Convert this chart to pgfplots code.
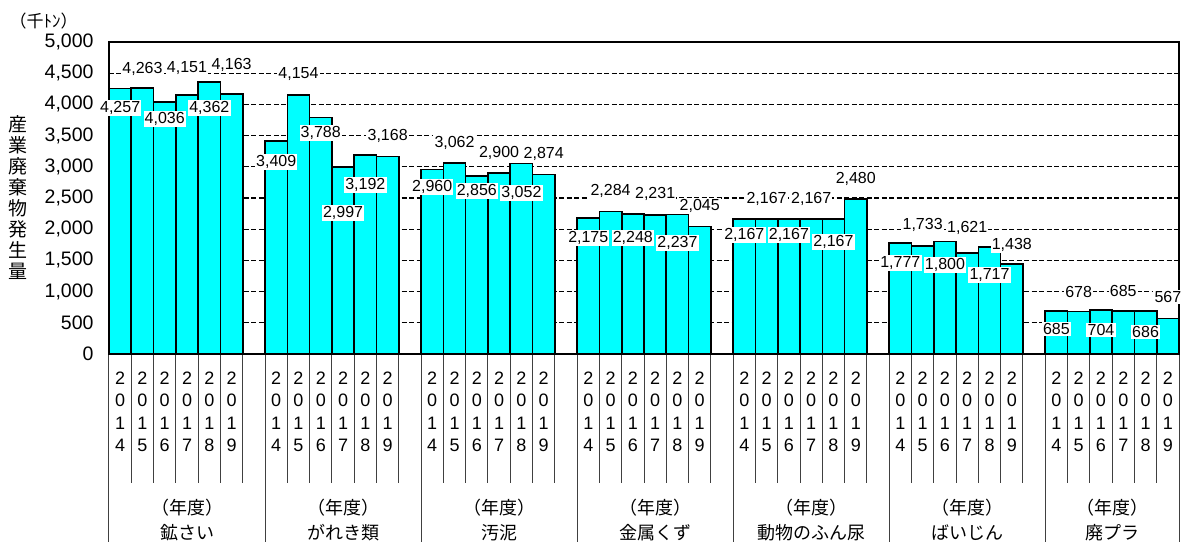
\documentclass[border=0pt]{standalone}
\usepackage{fontspec}
\setmainfont{Liberation Sans}
\newfontfamily\jp{Noto Sans CJK JP}
\usepackage{pgfplots}
\usepackage{pgfplotstable}
\pgfplotsset{compat=1.18}

\definecolor{barc}{RGB}{0,255,255}

% bars: 7 groups x 6 years (2014-2019), one empty slot between groups
\pgfplotstableread{
x y
0.5 4257
1.5 4263
2.5 4036
3.5 4151
4.5 4362
5.5 4163
7.5 3409
8.5 4154
9.5 3788
10.5 2997
11.5 3192
12.5 3168
14.5 2960
15.5 3062
16.5 2856
17.5 2900
18.5 3052
19.5 2874
21.5 2175
22.5 2284
23.5 2248
24.5 2231
25.5 2237
26.5 2045
28.5 2167
29.5 2167
30.5 2167
31.5 2167
32.5 2167
33.5 2480
35.5 1777
36.5 1733
37.5 1800
38.5 1621
39.5 1717
40.5 1438
42.5 685
43.5 678
44.5 704
45.5 685
46.5 686
47.5 567
}\bars

% where the value labels sit
\pgfplotstableread{
x ly lbl
0.5 3942 4,257
1.5 4567 4,263
2.5 3766 4,036
3.5 4583 4,151
4.5 3942 4,362
5.5 4631 4,163
7.5 3077 3,409
8.5 4487 4,154
9.5 3542 3,788
10.5 2260 2,997
11.5 2708 3,192
12.5 3494 3,168
14.5 2676 2,960
15.5 3381 3,062
16.5 2612 2,856
17.5 3221 2,900
18.5 2580 3,052
19.5 3205 2,874
21.5 1859 2,175
22.5 2612 2,284
23.5 1859 2,248
24.5 2564 2,231
25.5 1779 2,237
26.5 2372 2,045
28.5 1907 2,167
29.5 2484 2,167
30.5 1907 2,167
31.5 2484 2,167
32.5 1795 2,167
33.5 2804 2,480
35.5 1458 1,777
36.5 2067 1,733
37.5 1426 1,800
38.5 2019 1,621
39.5 1266 1,717
40.5 1747 1,438
42.5 400 685
43.5 994 678
44.5 385 704
45.5 1010 685
46.5 353 686
47.5 913 567
}\labels

\newcommand\yy[1]{2\\0\\1\\#1}

\begin{document}
\begin{tikzpicture}
\useasboundingbox (-109pt,-188pt) rectangle (1078pt,354pt);
\begin{axis}[
  at={(0,0)}, anchor=south west,
  scale only axis, width=1070pt, height=312pt,
  xmin=0, xmax=48, ymin=0, ymax=5000,
  axis line style={line width=1.6pt},
  clip=false,
  tick pos=left,
  ytick={0,500,...,5000},
  ytick style={draw=none},
  ymajorgrids,
  grid style={black, line width=1.2pt, dash pattern=on 5pt off 2.5pt},
  yticklabel style={font=\fontsize{19.5}{22}\selectfont, xshift=-12pt},
  y tick label style={/pgf/number format/.cd, 1000 sep={,}, assume math mode=true},
  xtick={0,7,14,21,28,35,42,48},
  xticklabels={},
  minor xtick={1,2,3,4,5,6,8,9,10,11,12,13,15,16,17,18,19,20,22,23,24,25,26,27,29,30,31,32,33,34,36,37,38,39,40,41,43,44,45,46,47},
  major tick length=-188pt,
  minor tick length=-129pt,
  xtick style={black!75, line width=1pt},
  extra x ticks={0.5,1.5,2.5,3.5,4.5,5.5,7.5,8.5,9.5,10.5,11.5,12.5,14.5,15.5,16.5,17.5,18.5,19.5,21.5,22.5,23.5,24.5,25.5,26.5,28.5,29.5,30.5,31.5,32.5,33.5,35.5,36.5,37.5,38.5,39.5,40.5,42.5,43.5,44.5,45.5,46.5,47.5},
  extra x tick labels={\yy4,\yy5,\yy6,\yy7,\yy8,\yy9,\yy4,\yy5,\yy6,\yy7,\yy8,\yy9,\yy4,\yy5,\yy6,\yy7,\yy8,\yy9,\yy4,\yy5,\yy6,\yy7,\yy8,\yy9,\yy4,\yy5,\yy6,\yy7,\yy8,\yy9,\yy4,\yy5,\yy6,\yy7,\yy8,\yy9,\yy4,\yy5,\yy6,\yy7,\yy8,\yy9},
  extra x tick style={major tick length=0pt, tick label style={align=center, font=\fontsize{18}{22.6}\selectfont, yshift=-14pt}},
]
\addplot[ybar, bar width=1, bar shift=0pt, fill=barc, draw=black, line width=1.6pt] table[x=x, y=y]{\bars};
\addplot[draw=none, mark=none, nodes near coords, point meta=explicit symbolic,
  nodes near coords style={anchor=center, fill=white, inner sep=1.2pt, font=\fontsize{16}{17}\selectfont}]
  table[x=x, y=ly, meta=lbl]{\labels};

\node[align=center, font=\jp\fontsize{18}{25}\selectfont] at (axis cs:3.5,0) [yshift=-166pt] {（年度）\\鉱さい};
\node[align=center, font=\jp\fontsize{18}{25}\selectfont] at (axis cs:10.5,0) [yshift=-166pt] {（年度）\\がれき類};
\node[align=center, font=\jp\fontsize{18}{25}\selectfont] at (axis cs:17.5,0) [yshift=-166pt] {（年度）\\汚泥};
\node[align=center, font=\jp\fontsize{18}{25}\selectfont] at (axis cs:24.5,0) [yshift=-166pt] {（年度）\\金属くず};
\node[align=center, font=\jp\fontsize{18}{25}\selectfont] at (axis cs:31.5,0) [yshift=-166pt] {（年度）\\動物のふん尿};
\node[align=center, font=\jp\fontsize{18}{25}\selectfont] at (axis cs:38.5,0) [yshift=-166pt] {（年度）\\ばいじん};
\node[align=center, font=\jp\fontsize{18}{25}\selectfont] at (axis cs:45,0) [yshift=-166pt] {（年度）\\廃プラ};

\node[anchor=west, font=\jp\fontsize{17}{19}\selectfont] at (rel axis cs:0,1) [xshift=-103pt, yshift=21pt] {（千ﾄﾝ）};
\node[align=center, font=\jp\fontsize{19}{21}\selectfont] at (rel axis cs:0,0.5) [xshift=-91pt] {産\\業\\廃\\棄\\物\\発\\生\\量};
\end{axis}
\end{tikzpicture}
\end{document}
